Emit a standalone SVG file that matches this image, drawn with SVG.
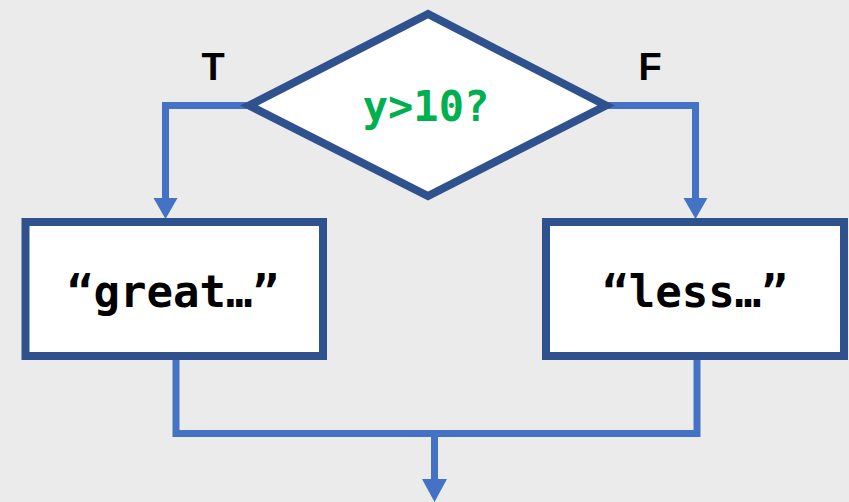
<svg xmlns="http://www.w3.org/2000/svg" width="849" height="502" viewBox="0 0 849 502">
<style>
.shape{fill:#FFFFFF;stroke:#2F528F;stroke-width:8}
.conn{fill:none;stroke:#4472C4;stroke-width:7}
.head{fill:#4472C4}
.lbl{font-family:"Liberation Sans",Arial,sans-serif;font-weight:bold;font-size:38px;fill:#000000;text-anchor:middle}
.code{font-family:"DejaVu Sans Mono","Liberation Mono",monospace;font-weight:bold;text-anchor:middle}
</style>
<rect width="849" height="502" fill="#EBEBEB"/>
<g id="connectors">
<path class="conn" d="M247,105.5 H165.5 V200"/>
<polygon class="head" points="153.5,198 177.5,198 165.5,219"/>
<path class="conn" d="M608,105.5 H695.5 V200"/>
<polygon class="head" points="683.5,198 707.5,198 695.5,219"/>
<path class="conn" d="M176,356 V433.5 H697 V356"/>
<path class="conn" d="M434.5,433.5 V482"/>
<polygon class="head" points="422,479 447,479 434.5,502"/>
</g>
<g id="decision">
<polygon class="shape" points="428,14 249,105.5 428,196 606,105.5"/>
<text class="code" x="426" y="121" font-size="42" fill="#00B050">y&gt;10?</text>
</g>
<g id="label-T"><text class="lbl" x="213" y="80">T</text></g>
<g id="label-F"><text class="lbl" x="650" y="80">F</text></g>
<g id="box-great">
<rect class="shape" x="25.5" y="222" width="297.5" height="134"/>
<text class="code" x="173" y="307" font-size="44" fill="#000000">“great…”</text>
</g>
<g id="box-less">
<rect class="shape" x="546" y="222" width="298" height="134"/>
<text class="code" x="695" y="307" font-size="44" fill="#000000">“less…”</text>
</g>
</svg>
